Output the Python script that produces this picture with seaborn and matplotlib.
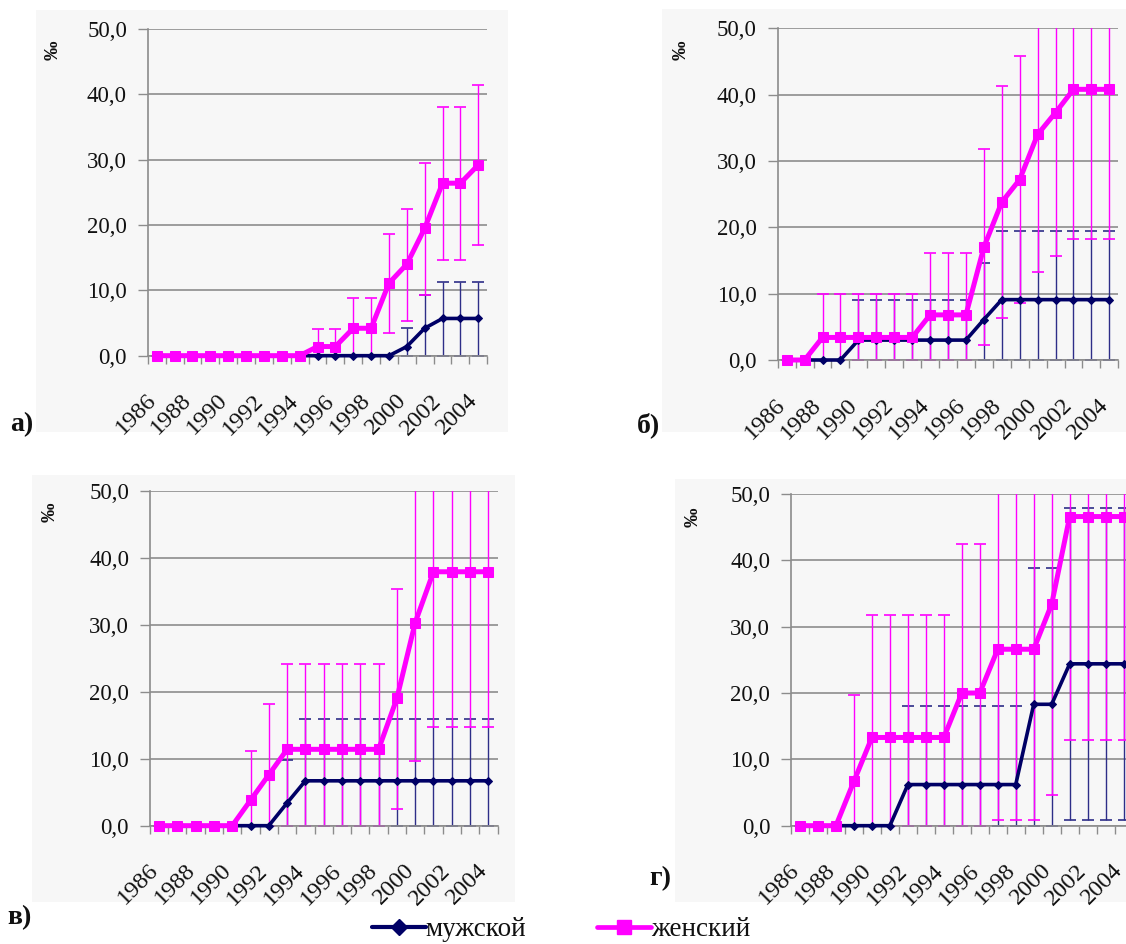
import numpy as np
import pandas as pd
import matplotlib
matplotlib.use("Agg")
import matplotlib.pyplot as plt
from matplotlib.lines import Line2D
from matplotlib.patches import Rectangle
from matplotlib.ticker import FuncFormatter, MultipleLocator
from matplotlib.transforms import ScaledTranslation
import seaborn as sns

# ---- data: rates per 1000 (‰), 1986–2004 ----
years = list(range(1986, 2005))
series_names = ["мужской", "женский"]
panel_labels = ["а)", "б)", "в)", "г)"]

# panel а
male_a = [0, 0, 0, 0, 0, 0, 0, 0, 0, 0, 0, 0, 0, 0, 1.4, 4.2, 5.7, 5.7, 5.7]
male_a_lo = [0] * 19
male_a_hi = [0, 0, 0, 0, 0, 0, 0, 0, 0, 0, 0, 0, 0, 0, 4.2, 9.3, 11.3, 11.3, 11.3]
female_a = [0, 0, 0, 0, 0, 0, 0, 0, 0, 1.4, 1.4, 4.2, 4.2, 11.1, 14.0, 19.5, 26.4, 26.4, 29.2]
female_a_lo = [0, 0, 0, 0, 0, 0, 0, 0, 0, 0, 0, 0, 0, 3.5, 5.3, 9.3, 14.7, 14.7, 16.9]
female_a_hi = [0, 0, 0, 0, 0, 0, 0, 0, 0, 4.1, 4.1, 8.9, 8.9, 18.7, 22.4, 29.5, 38.1, 38.1, 41.4]

# panel б
male_b = [0, 0, 0, 0, 3.0, 3.0, 3.0, 3.0, 3.0, 3.0, 3.0, 6.1, 9.1, 9.1, 9.1, 9.1, 9.1, 9.1, 9.1]
male_b_lo = [0] * 19
male_b_hi = [0, 0, 0, 0, 9.1, 9.1, 9.1, 9.1, 9.1, 9.1, 9.1, 14.6, 19.5, 19.5, 19.5, 19.5, 19.5, 19.5, 19.5]
female_b = [0, 0, 3.4, 3.4, 3.4, 3.4, 3.4, 3.4, 6.8, 6.8, 6.8, 17.0, 23.8, 27.2, 34.0, 37.3, 40.8, 40.8, 40.8]
female_b_lo = [0, 0, 0, 0, 0, 0, 0, 0, 0, 0, 0, 2.2, 6.4, 8.6, 13.3, 15.7, 18.2, 18.2, 18.2]
female_b_hi = [0, 0, 10.0, 10.0, 10.0, 10.0, 10.0, 10.0, 16.1, 16.1, 16.1, 31.8, 41.3, 45.8, 58.0, 62.0, 68.0, 68.0, 68.0]

# panel в
male_v = [0, 0, 0, 0, 0, 0, 0, 3.4, 6.7, 6.7, 6.7, 6.7, 6.7, 6.7, 6.7, 6.7, 6.7, 6.7, 6.7]
male_v_lo = [0] * 19
male_v_hi = [0, 0, 0, 0, 0, 0, 0, 9.8, 15.9, 15.9, 15.9, 15.9, 15.9, 15.9, 15.9, 15.9, 15.9, 15.9, 15.9]
female_v = [0, 0, 0, 0, 0, 3.8, 7.6, 11.4, 11.4, 11.4, 11.4, 11.4, 11.4, 19.0, 30.3, 37.9, 37.9, 37.9, 37.9]
female_v_lo = [0, 0, 0, 0, 0, 0, 0, 0, 0, 0, 0, 0, 0, 2.5, 9.6, 14.8, 14.8, 14.8, 14.8]
female_v_hi = [0, 0, 0, 0, 0, 11.2, 18.1, 24.2, 24.2, 24.2, 24.2, 24.2, 24.2, 35.4, 55.0, 62.0, 62.0, 62.0, 62.0]

# panel г
male_g = [0, 0, 0, 0, 0, 0, 6.2, 6.2, 6.2, 6.2, 6.2, 6.2, 6.2, 18.3, 18.3, 24.4, 24.4, 24.4, 24.4]
male_g_lo = [0, 0, 0, 0, 0, 0, 0, 0, 0, 0, 0, 0, 0, 0, 0, 0.9, 0.9, 0.9, 0.9]
male_g_hi = [0, 0, 0, 0, 0, 0, 18.0, 18.0, 18.0, 18.0, 18.0, 18.0, 18.0, 38.8, 38.8, 47.9, 47.9, 47.9, 47.9]
female_g = [0, 0, 0, 6.7, 13.3, 13.3, 13.3, 13.3, 13.3, 20.0, 20.0, 26.6, 26.6, 26.6, 33.4, 46.6, 46.6, 46.6, 46.6]
female_g_lo = [0, 0, 0, 0, 0, 0, 0, 0, 0, 0, 0, 0.9, 0.9, 0.9, 4.6, 12.9, 12.9, 12.9, 12.9]
female_g_hi = [0, 0, 0, 19.7, 31.7, 31.7, 31.7, 31.7, 31.7, 42.4, 42.4, 55.0, 56.0, 58.0, 65.0, 80.0, 80.0, 80.0, 80.0]

panels = [
    (male_a, male_a_lo, male_a_hi, female_a, female_a_lo, female_a_hi),
    (male_b, male_b_lo, male_b_hi, female_b, female_b_lo, female_b_hi),
    (male_v, male_v_lo, male_v_hi, female_v, female_v_lo, female_v_hi),
    (male_g, male_g_lo, male_g_hi, female_g, female_g_lo, female_g_hi),
]

# ---- style ----
sns.set_theme(style="white")
plt.rcParams["font.family"] = ["Liberation Serif", "DejaVu Serif"]

W, H = 1126, 944
fig = plt.figure(figsize=(W / 100, H / 100), dpi=100)
fig.patch.set_facecolor("white")

BG = "#f7f7f7"
GRID = "#9c9c9c"
NAVY = "#000066"
NAVY_ERR = "#2e2e88"
MAGENTA = "#ff00ff"
TXT = "#111111"


def px_rect(x0, y0, x1, y1):
    """Rectangle in figure fractions from pixel corners (top-left origin)."""
    return [x0 / W, 1 - y1 / H, (x1 - x0) / W, (y1 - y0) / H]


# chart-area backgrounds (pixel boxes) and plot areas
bg_boxes = [(36, 10, 508, 432), (662, 9, 1126, 432), (32, 475, 515, 902), (675, 479, 1126, 902)]
plot_boxes = [(147.8, 29.0, 487.2, 355.7), (777.7, 28.3, 1118.3, 360.0),
              (149.9, 490.7, 497.5, 825.7), (791.0, 494.0, 1132.6, 825.7)]
permil_pos = [(53, 50), (681, 50), (50, 512), (693, 517)]
label_pos = [(22, 425), (648, 425), (19, 918), (660, 879)]

for (x0, y0, x1, y1) in bg_boxes:
    fig.patches.append(Rectangle((x0 / W, 1 - y1 / H), (x1 - x0) / W, (y1 - y0) / H,
                                 transform=fig.transFigure, facecolor=BG,
                                 edgecolor="none", zorder=-10))

xs = np.arange(len(years))
fmt = FuncFormatter(lambda v, _: f"{v:.1f}".replace(".", ","))
label_shift = ScaledTranslation(-4 / 100, 0, fig.dpi_scale_trans)

for i, (box, data) in enumerate(zip(plot_boxes, panels)):
    m, m_lo, m_hi, f, f_lo, f_hi = data
    ax = fig.add_axes(px_rect(*box))
    ax.set_zorder(1)
    ax.set_facecolor(BG)

    df = pd.DataFrame({
        "idx": np.concatenate([xs, xs]),
        "value": m + f,
        "sex": [series_names[0]] * len(xs) + [series_names[1]] * len(xs),
    })

    # error bars (asymmetric intervals)
    m_arr, f_arr = np.array(m), np.array(f)
    ax.errorbar(xs, m_arr, yerr=[m_arr - np.array(m_lo), np.array(m_hi) - m_arr],
                fmt="none", ecolor=NAVY_ERR, elinewidth=1.0, capsize=4.2, capthick=1.2,
                zorder=2)
    ax.errorbar(xs, f_arr, yerr=[f_arr - np.array(f_lo), np.array(f_hi) - f_arr],
                fmt="none", ecolor=MAGENTA, elinewidth=1.0, capsize=4.2, capthick=1.2,
                zorder=2)

    sns.lineplot(data=df[df["sex"] == series_names[0]], x="idx", y="value", ax=ax,
                 color=NAVY, lw=2.6, marker="D", markersize=4.5, markeredgecolor=NAVY,
                 legend=False, zorder=3, clip_on=False)
    sns.lineplot(data=df[df["sex"] == series_names[1]], x="idx", y="value", ax=ax,
                 color=MAGENTA, lw=3.6, marker="s", markersize=6.8,
                 markeredgecolor=MAGENTA, legend=False, zorder=4, clip_on=False)

    ax.set_xlim(-0.5, len(years) - 0.5)
    ax.set_ylim(0, 50)
    ax.set_xlabel("")
    ax.set_ylabel("")

    ax.yaxis.set_major_locator(MultipleLocator(10))
    ax.yaxis.set_major_formatter(fmt)
    ax.grid(axis="y", color=GRID, lw=1.4)
    ax.grid(axis="x", visible=False)
    ax.set_axisbelow(True)

    ax.set_xticks(xs[::2])
    ax.set_xticklabels([str(y) for y in years[::2]])
    ax.set_xticks(np.arange(-0.5, len(years), 1.0), minor=True)
    ax.tick_params(axis="x", which="major", length=0, pad=30, labelsize=17.5,
                   labelrotation=45, labelcolor=TXT)
    ax.tick_params(axis="x", which="minor", length=6, width=1.0, color="#8c8c8c",
                   direction="out", bottom=True)
    ax.tick_params(axis="y", which="major", length=7, width=1.0, color="#8c8c8c",
                   direction="out", left=True, labelsize=16.5, pad=8, labelcolor=TXT)
    for lab in ax.get_xticklabels():
        lab.set_ha("right")
        lab.set_va("center")
        lab.set_rotation_mode("anchor")
        lab.set_transform(lab.get_transform() + label_shift)

    for s in ("top", "right"):
        ax.spines[s].set_visible(False)
    for s in ("left", "bottom"):
        ax.spines[s].set_color("#8c8c8c")
        ax.spines[s].set_linewidth(1.2)

    px, py = permil_pos[i]
    fig.text(px / W, 1 - py / H, "‰", rotation=90, ha="center", va="center",
             fontsize=14, fontweight="bold", color=TXT)
    lx, ly = label_pos[i]
    fig.text(lx / W, 1 - ly / H, panel_labels[i], ha="center", va="center",
             fontsize=20, fontweight="bold", color=TXT)

# shared legend
handles = [
    Line2D([], [], color=NAVY, lw=3, marker="D", markersize=8, markeredgecolor=NAVY),
    Line2D([], [], color=MAGENTA, lw=3.4, marker="s", markersize=10,
           markeredgecolor=MAGENTA),
]
fig.legend(handles, series_names, loc="center", bbox_to_anchor=(561 / W, 1 - 930 / H),
           ncol=2, frameon=False, fontsize=19.5, handlelength=2.0, handletextpad=0.0,
           columnspacing=2.6, borderpad=0.1, labelcolor=TXT)

fig.savefig("out.png", dpi=100, facecolor="white")
